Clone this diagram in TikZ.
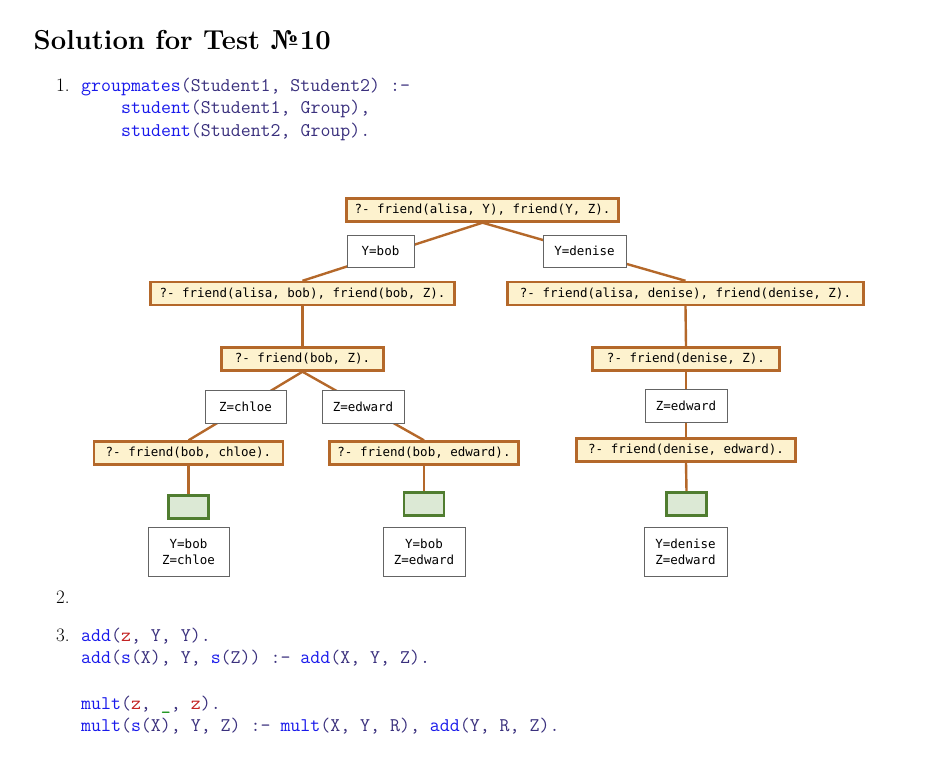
\documentclass[tikz,border=0pt]{standalone}
\usepackage{fontspec}
\usetikzlibrary{backgrounds}
\newfontfamily\treefont{DejaVu Sans Mono}
\definecolor{kwblue}{RGB}{25,25,235}
\definecolor{varind}{RGB}{58,48,125}
\definecolor{atomred}{RGB}{195,35,35}
\definecolor{usgreen}{RGB}{0,135,0}
\definecolor{qborder}{RGB}{180,104,42}
\definecolor{qfill}{RGB}{253,242,206}
\definecolor{gborder}{RGB}{80,125,48}
\definecolor{gfill}{RGB}{220,233,213}
\definecolor{lborder}{RGB}{100,100,100}
\newcommand{\kwc}[1]{\textcolor{kwblue}{#1}}
\newcommand{\vrc}[1]{\textcolor{varind}{#1}}
\newcommand{\atc}[1]{\textcolor{atomred}{#1}}
\newcommand{\grc}[1]{\textcolor{usgreen}{#1}}
\tikzset{
  txt/.style={anchor=base west, inner sep=0pt, font=\fontsize{19}{22.8}\selectfont},
  code/.style={anchor=base west, inner sep=0pt, font=\fontsize{19.35}{22.8}\selectfont\ttfamily},
  query/.style={draw=qborder, fill=qfill, line width=2.4pt, minimum height=23pt, inner sep=0pt, font=\treefont\fontsize{12.5}{14}\selectfont},
  lbl/.style={draw=lborder, fill=white, line width=0.8pt, minimum height=32pt, inner sep=0pt, font=\treefont\fontsize{12.5}{14}\selectfont},
  res/.style={draw=lborder, fill=white, line width=0.8pt, minimum height=49pt, inner sep=0pt, align=center, font=\treefont\fontsize{12.5}{16}\selectfont},
  succ/.style={draw=gborder, fill=gfill, line width=2.5pt, minimum width=40pt, minimum height=23pt, inner sep=0pt},
  edge/.style={draw=qborder, line width=2.4pt}
}
\begin{document}
\begin{tikzpicture}[x=1pt,y=-1pt]
\useasboundingbox (0,0) rectangle (928,771);
% heading
\node[anchor=base west, inner sep=0pt, font=\fontsize{27.4}{33}\selectfont\bfseries] (title) at (33.5,49.5) {Solution for Test №10};
% part 1
\node[txt] (n1) at (56,91) {1.};
\node[code] (c1a) at (81,91) {\kwc{groupmates}\vrc{(Student1, Student2) :-}};
\node[code] (c1b) at (121,113.8) {\kwc{student}\vrc{(Student1, Group),}};
\node[code] (c1c) at (121,136.6) {\kwc{student}\vrc{(Student2, Group).}};
% part 2, 3
\node[txt] (n2) at (56,603) {2.};
\node[txt] (n3) at (56,641) {3.};
\node[code] (c3a) at (81,641) {\kwc{add}\vrc{(}\atc{z}\vrc{, Y, Y).}};
\node[code] (c3b) at (81,663.7) {\kwc{add}\vrc{(}\kwc{s}\vrc{(X), Y, }\kwc{s}\vrc{(Z)) :- }\kwc{add}\vrc{(X, Y, Z).}};
\node[code] (c3c) at (81,709) {\kwc{mult}\vrc{(}\atc{z}\vrc{, }\grc{\_}\vrc{, }\atc{z}\vrc{).}};
\node[code] (c3d) at (81,731.7) {\kwc{mult}\vrc{(}\kwc{s}\vrc{(X), Y, Z) :- }\kwc{mult}\vrc{(X, Y, R), }\kwc{add}\vrc{(Y, R, Z).}};
% tree: queries
\node[query, minimum width=272pt] (root) at (482.5,210) {?- friend(alisa, Y), friend(Y, Z).};
\node[query, minimum width=304pt] (l1) at (302.5,293.5) {?- friend(alisa, bob), friend(bob, Z).};
\node[query, minimum width=356pt] (r1) at (685.5,293.5) {?- friend(alisa, denise), friend(denise, Z).};
\node[query, minimum width=162pt] (l2) at (302.5,359) {?- friend(bob, Z).};
\node[query, minimum width=187pt] (r2) at (686,359) {?- friend(denise, Z).};
\node[query, minimum width=189pt] (ll3) at (188.5,453) {?- friend(bob, chloe).};
\node[query, minimum width=189pt] (lr3) at (424,453) {?- friend(bob, edward).};
\node[query, minimum width=219pt] (r3) at (686,450) {?- friend(denise, edward).};
% labels
\node[lbl, minimum width=67pt] (ybob) at (380.5,251) {Y=bob};
\node[lbl, minimum width=83pt] (yden) at (584.5,251) {Y=denise};
\node[lbl, minimum width=81pt, minimum height=33pt] (zchl) at (245.5,406.5) {Z=chloe};
\node[lbl, minimum width=82pt, minimum height=33pt] (zedl) at (363,406.5) {Z=edward};
\node[lbl, minimum width=82pt, minimum height=33pt] (zedr) at (686,406) {Z=edward};
% success boxes
\node[succ] (s1) at (188.5,507) {};
\node[succ] (s2) at (424,504) {};
\node[succ] (s3) at (686.5,504) {};
% results
\node[res, minimum width=81pt] (res1) at (188.5,551.5) {Y=bob\\Z=chloe};
\node[res, minimum width=82pt] (res2) at (424,551.5) {Y=bob\\Z=edward};
\node[res, minimum width=83pt] (res3) at (685.5,551.5) {Y=denise\\Z=edward};
% edges
\begin{scope}[on background layer]
\draw[edge] (root.south) -- (l1.north);
\draw[edge] (root.south) -- (r1.north);
\draw[edge] (l1.south) -- (l2.north);
\draw[edge] (r1.south) -- (r2.north);
\draw[edge] (l2.south) -- (ll3.north);
\draw[edge] (l2.south) -- (lr3.north);
\draw[edge] (r2.south) -- (r3.north);
\draw[edge] (ll3.south) -- (s1.north);
\draw[edge] (lr3.south) -- (s2.north);
\draw[edge] (r3.south) -- (s3.north);
\end{scope}
\end{tikzpicture}
\end{document}
